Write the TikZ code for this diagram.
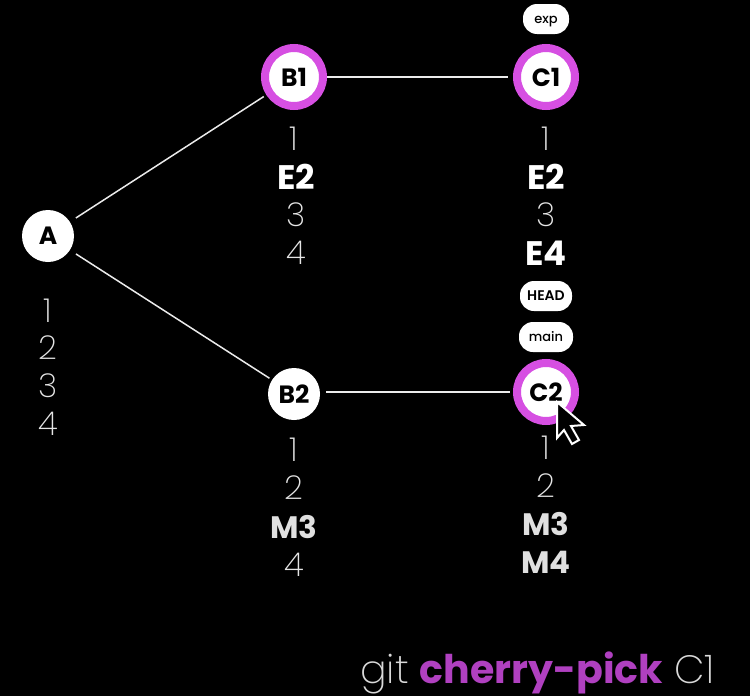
\documentclass[tikz,border=0pt]{standalone}
\usepackage{fontspec}
\setmainfont{Poppins}
\newfontfamily\lightf{Poppins Light}
\newfontfamily\xlightf{Poppins ExtraLight}
\newfontfamily\boldf{Poppins Bold}
\newfontfamily\sbf{Poppins SemiBold}
\newfontfamily\medf{Poppins Medium}
\definecolor{ring}{HTML}{D64FE2}
\definecolor{pick}{HTML}{B040C0}
\tikzset{
  x=1pt,y=-1pt,
  commit/.style={circle,fill=white,text=black,inner sep=0pt,minimum size=52pt,font=\boldf\fontsize{25}{25}\selectfont},
  picked/.style={commit,draw=ring,line width=8pt,minimum size=58pt},
  conn/.style={draw=white!92!black,line width=1.5pt},
  pill/.style={rounded corners=14pt,fill=white,text=black,inner sep=0pt,minimum height=30pt,text height=10pt,text depth=1pt,font=\medf\fontsize{13}{13}\selectfont},
  num/.style={text=white!90!black,font=\xlightf\fontsize{33}{33}\selectfont,inner sep=0pt},
  edit/.style={text=white,font=\boldf\fontsize{34}{34}\selectfont,inner sep=0pt},
  editg/.style={edit,text=white!88!black,font=\boldf\fontsize{31}{31}\selectfont},
  cmd/.style={anchor=base west,inner sep=0pt,text=white!85!black,font=\xlightf\fontsize{39.5}{40}\selectfont}
}
\begin{document}
\begin{tikzpicture}
\useasboundingbox[fill=black] (0,0) rectangle (750,696);
\node[commit] (A) at (48,236) {A};
\node[picked] (B1) at (294,77) {B1};
\node[picked] (C1) at (546,77) {C1};
\node[commit] (B2) at (294,394) {B2};
\node[picked] (C2) at (546,392) {C2};
\draw[conn,shorten <=7pt,shorten >=3pt] (A) -- (B1);
\draw[conn,shorten <=7pt,shorten >=3pt] (A) -- (B2);
\draw[conn,shorten >=5pt] (B1) -- (C1);
\draw[conn,shorten <=6pt,shorten >=3pt] (C2.west -| B2.east) -- (C2.west);
\node[pill,minimum width=46pt] (exp) at (546,19) {exp};
\node[pill,minimum width=52pt,font=\sbf\fontsize{14}{14}\selectfont] (head) at (546,296) {HEAD};
\node[pill,minimum width=54pt] (main) at (546,337) {main};
\node[num] (a1) at (48,311) {1};
\node[num] (a2) at (48,348) {2};
\node[num] (a3) at (48,386) {3};
\node[num] (a4) at (48,424) {4};
\node[num] (b11) at (294,139) {1};
\node[edit] (b12) at (296,177) {E2};
\node[num] (b13) at (296,215) {3};
\node[num] (b14) at (296,253) {4};
\node[num] (c11) at (546,139) {1};
\node[edit] (c12) at (546,177) {E2};
\node[num] (c13) at (546,215) {3};
\node[edit] (c14) at (546,253) {E4};
\node[num] (b21) at (294,450) {1};
\node[num] (b22) at (294,488) {2};
\node[editg] (b23) at (294,527) {M3};
\node[num] (b24) at (294,565) {4};
\node[num] (c21) at (546,448) {1};
\node[num] (c22) at (546,486) {2};
\node[editg] (c23) at (546,524) {M3};
\node[editg] (c24) at (546,562) {M4};
\node[cmd] (cmd) at (360,683) {git {\boldf\color{pick}cherry-pick} C1};
\draw[fill=black,draw=white,line width=2pt,line join=miter]
  (557,402) -- (557,438) -- (564,430) -- (572,444) -- (579,440) -- (571,426) -- (584,425) -- cycle;
\end{tikzpicture}
\end{document}
